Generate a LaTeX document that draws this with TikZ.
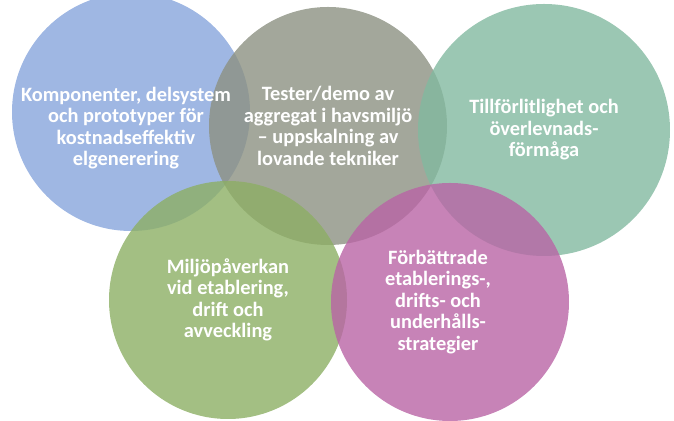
\documentclass[tikz,border=0pt]{standalone}
\usepackage{fontspec}
\setmainfont{Carlito}
\definecolor{cblue}{RGB}{135,165,220}
\definecolor{cgrey}{RGB}{140,145,130}
\definecolor{cteal}{RGB}{130,185,160}
\definecolor{cgreen}{RGB}{140,175,100}
\definecolor{cpink}{RGB}{185,100,165}
\tikzset{
  bubble/.style={circle,minimum size=#1*0.02cm,fill opacity=0.8,inner sep=0pt},
  bubble/.default=238,
  label/.style={text=white,font=\bfseries\fontsize{11.6}{12.2}\selectfont,align=center}
}
\begin{document}
\begin{tikzpicture}[x=0.02cm,y=-0.02cm]
\useasboundingbox (0,0) rectangle (674,421);
\node[bubble,fill=cblue] (komp) at (131,112) {};
\node[bubble,fill=cgrey] (test) at (328,126) {};
\node[bubble=252,fill=cteal] (till) at (544,130) {};
\node[bubble,fill=cgreen] (milj) at (228,300) {};
\node[bubble,fill=cpink] (forb) at (450,302) {};
\node[label] at (komp.center) [xshift=-0.1cm,yshift=-0.32cm] {Komponenter, delsystem\\och prototyper för\\kostnadseffektiv\\elgenerering};
\node[label] at (test.center) {Tester/demo av\\aggregat i havsmiljö\\– uppskalning av\\lovande tekniker};
\node[label] at (till.center) {Tillförlitlighet och\\överlevnads-\\förmåga};
\node[label] at (milj.center) {Miljöpåverkan\\vid etablering,\\drift och\\avveckling};
\node[label] at (forb.center) [xshift=-0.24cm] {Förbättrade\\etablerings-,\\drifts- och\\underhålls-\\strategier};
\end{tikzpicture}
\end{document}
